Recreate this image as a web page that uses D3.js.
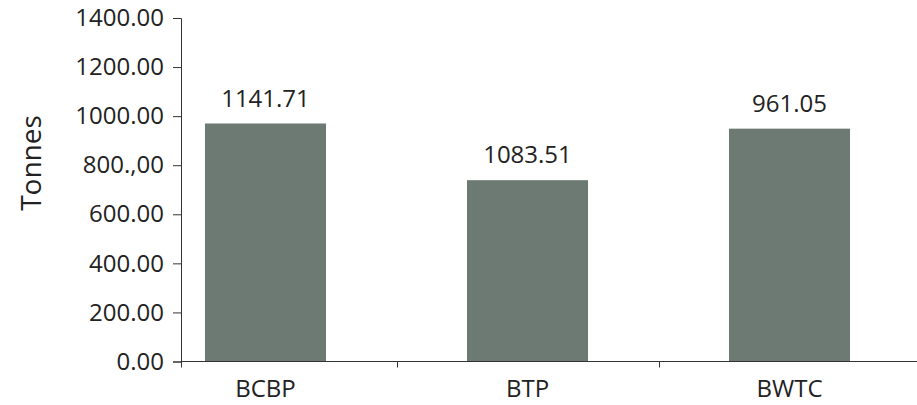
<!DOCTYPE html>
<html>
<head>
<meta charset="utf-8">
<script src="https://cdn.jsdelivr.net/npm/d3@7"></script>
<style>
  body { margin: 0; background: #fff; }
  text { font-family: "Open Sans", sans-serif; fill: #222; }
</style>
</head>
<body>
<div id="chart"></div>
<script>
// Chart data
const categories = ["BCBP", "BTP", "BWTC"];
const barValues = [970, 739, 949];
const barLabels = ["1141.71", "1083.51", "961.05"];
const yTicks = [0, 200, 400, 600, 800, 1000, 1200, 1400];
const yTickLabels = ["0.00", "200.00", "400.00", "600.00", "800.,00", "1000.00", "1200.00", "1400.00"];

const width = 917, height = 405;
const axisX = 181;

const svg = d3.select("#chart")
    .append("svg")
    .attr("width", width)
    .attr("height", height);

// Scales
const y = d3.scaleLinear()
    .domain([0, 1400])
    .range([361.5, 18]);

const x = d3.scaleBand()
    .domain(categories)
    .range([134.5, 920.5])
    .paddingInner(0.538)
    .paddingOuter(0.269);

// Bars
svg.selectAll("rect.bar")
    .data(categories)
    .join("rect")
    .attr("class", "bar")
    .attr("x", d => x(d))
    .attr("width", x.bandwidth())
    .attr("y", (d, i) => y(barValues[i]))
    .attr("height", (d, i) => y(0) - y(barValues[i]))
    .attr("fill", "#6d7a73");

// Value labels (as printed on the original)
svg.selectAll("text.value")
    .data(categories)
    .join("text")
    .attr("class", "value")
    .attr("x", d => x(d) + x.bandwidth() / 2)
    .attr("y", (d, i) => y(barValues[i]) - 17)
    .attr("text-anchor", "middle")
    .style("font-size", "24px")
    .text((d, i) => barLabels[i]);

// Y axis
const yAxis = svg.append("g")
    .attr("transform", `translate(${axisX},0)`)
    .call(d3.axisLeft(y)
        .tickValues(yTicks)
        .tickFormat((d, i) => yTickLabels[i])
        .tickSize(8)
        .tickPadding(9));
yAxis.selectAll("path, line").attr("stroke", "#333");
yAxis.selectAll("text")
    .style("font-size", "24px")
    .style("font-family", "'Open Sans', sans-serif")
    .attr("fill", "#222");

// small overhang of the y axis below zero
svg.append("line")
    .attr("x1", axisX + 0.5).attr("x2", axisX + 0.5)
    .attr("y1", y(0)).attr("y2", y(0) + 6)
    .attr("stroke", "#333");

// X axis line and ticks between categories
svg.append("line")
    .attr("x1", axisX).attr("x2", width)
    .attr("y1", y(0)).attr("y2", y(0))
    .attr("stroke", "#333");

const gap = x.step() * x.paddingInner();
svg.selectAll("line.xtick")
    .data(categories.slice(1))
    .join("line")
    .attr("class", "xtick")
    .attr("x1", d => Math.round(x(d) - gap / 2) + 0.5)
    .attr("x2", d => Math.round(x(d) - gap / 2) + 0.5)
    .attr("y1", y(0))
    .attr("y2", y(0) + 6)
    .attr("stroke", "#333");

svg.selectAll("text.xlabel")
    .data(categories)
    .join("text")
    .attr("class", "xlabel")
    .attr("x", d => x(d) + x.bandwidth() / 2)
    .attr("y", 397)
    .attr("text-anchor", "middle")
    .style("font-size", "24px")
    .text(d => d);

// Y axis title
svg.append("text")
    .attr("transform", "translate(41,163) rotate(-90)")
    .attr("text-anchor", "middle")
    .style("font-size", "28px")
    .attr("fill", "#333")
    .text("Tonnes");
</script>
</body>
</html>
